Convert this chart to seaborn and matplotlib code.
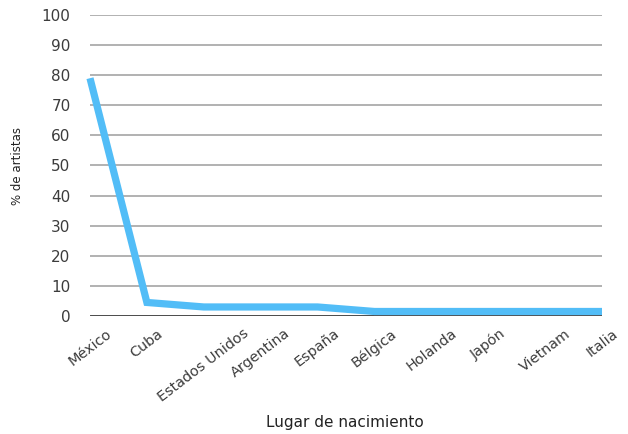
import matplotlib
matplotlib.use("Agg")
import matplotlib.pyplot as plt
import seaborn as sns
import pandas as pd

# Porcentaje de artistas según lugar de nacimiento
paises = ["México", "Cuba", "Estados Unidos", "Argentina", "España",
          "Bélgica", "Holanda", "Japón", "Vietnam", "Italia"]
porcentaje = [79, 4.5, 3, 3, 3, 1.5, 1.5, 1.5, 1.5, 1.5]
y_ticks = [0, 10, 20, 30, 40, 50, 60, 70, 80, 90, 100]

sns.set_theme(style="white")
plt.rcParams["font.family"] = ["DejaVu Sans"]

df = pd.DataFrame({"pais": paises, "pct": porcentaje, "pos": range(len(paises))})

fig = plt.figure(figsize=(6.28, 4.34), dpi=100)
ax = fig.add_axes([90 / 628, 1 - 316 / 434, 512 / 628, 301 / 434])

sns.lineplot(data=df, x="pos", y="pct", ax=ax, color="#52bdf7",
             linewidth=5.2, solid_capstyle="butt", solid_joinstyle="miter",
             clip_on=False, zorder=4)

ax.set_xlim(0, len(paises) - 1)
ax.set_ylim(0, 100)
ax.set_yticks(y_ticks)
ax.set_yticklabels([str(v) for v in y_ticks], fontsize=11, color="#3c3c3c")
ax.yaxis.grid(True, color="#ababab", linewidth=1.3)
ax.axhline(0, color="#2e2e2e", linewidth=1.8, zorder=3)
for s in ax.spines.values():
    s.set_visible(False)
ax.tick_params(axis="both", length=0)
ax.tick_params(axis="y", pad=14)

# etiquetas inclinadas, centradas bajo cada marca
ax.set_xticks(range(len(paises)))
ax.set_xticklabels(paises, fontsize=10.4, color="#3c3c3c", rotation=37.5,
                   ha="center", va="top", rotation_mode="default")
ax.tick_params(axis="x", pad=7.5)

ax.set_xlabel("")
ax.set_ylabel("")
fig.text(345 / 628, 1 - 423 / 434, "Lugar de nacimiento", ha="center",
         va="center", fontsize=11, color="#222222")
fig.text(18 / 628, 1 - 166 / 434, "% de artistas", ha="center", va="center",
         rotation=90, fontsize=8.5, color="#222222")

fig.savefig("out.png", dpi=100, facecolor="white")
